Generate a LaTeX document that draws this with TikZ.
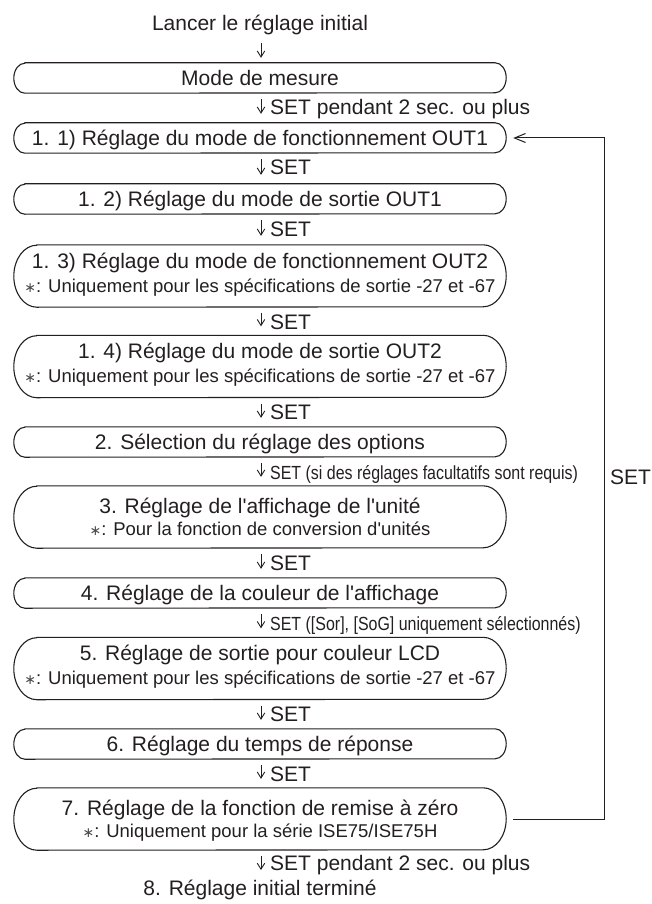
\documentclass[tikz,border=0pt]{standalone}
\usepackage{fontspec}
\setmainfont{Liberation Sans}
\newfontfamily\djv{DejaVu Sans}
\usepackage{graphicx}
\usetikzlibrary{arrows.meta}
\definecolor{ink}{RGB}{35,31,32}
\newcommand\msz{\fontsize{21}{25}\selectfont}
\newcommand\ssz{\fontsize{18.5}{22}\selectfont}
\newcommand\starmark{{\djv\fontsize{14}{14}\selectfont\color{black!70}∗}}
\newcommand\q{\textquotesingle}
\newcommand\cond[1]{\scalebox{0.84}[1]{\fontsize{19}{22}\selectfont #1}}
\begin{document}
\begin{tikzpicture}[x=1pt,y=1pt,
  boxc/.style={draw=none, inner sep=0pt, minimum width=492pt, minimum height=#1},
  txt/.style={inner sep=0pt, anchor=base, font=\msz, text=ink},
  note/.style={inner sep=0pt, anchor=base, font=\ssz, text=ink},
  lab/.style={inner sep=0pt, anchor=base west, font=\msz, text=ink},
  arr/.style={draw=ink, line width=0.9pt, -{Straight Barb[length=6pt,width=7.5pt]}},
  loopline/.style={draw=ink, line width=1pt, -{Straight Barb[length=11pt,width=9pt]}},
  outline/.style={draw=ink, line width=1.1pt}]
\useasboundingbox (0,0) rectangle (652,-904);
% boxes
\node[boxc=30pt] (m)   at (260,-78)    {};
\node[boxc=30pt] (b11) at (260,-138)   {};
\node[boxc=30pt] (b12) at (260,-199)   {};
\node[boxc=62pt] (b13) at (260,-276)   {};
\node[boxc=62pt] (b14) at (260,-366.5) {};
\node[boxc=30pt] (b2)  at (260,-442)   {};
\node[boxc=62pt] (b3)  at (260,-517)   {};
\node[boxc=30pt] (b4)  at (260,-593)   {};
\node[boxc=62pt] (b5)  at (260,-668.5) {};
\node[boxc=30pt] (b6)  at (260,-744)   {};
\node[boxc=62pt] (b7)  at (260,-819)   {};
\foreach \n/\d/\r in {m/11/15,b11/11/15,b12/11/15,b13/23/31,b14/23/31,b2/11/15,b3/23/31,b4/11/15,b5/23/31,b6/11/15,b7/23/31}
  \draw[outline] ([xshift=\d]\n.north west) -- ([xshift=-\d]\n.north east)
    arc[start angle=90,end angle=-90,x radius=\d,y radius=\r]
    -- ([xshift=\d]\n.south west)
    arc[start angle=270,end angle=90,x radius=\d,y radius=\r] -- cycle;
% texts
\node[txt] (l0) at (260,-31) {Lancer le réglage initial};
\node[txt] (tm) at (260,-85.5) {Mode de mesure};
\node[txt] (t11) at (260,-145.5) {1. 1) Réglage du mode de fonctionnement OUT1};
\node[txt] (t12) at (260,-206.5) {1. 2) Réglage du mode de sortie OUT1};
\node[txt] (t13) at (260,-268) {1. 3) Réglage du mode de fonctionnement OUT2};
\node[note] (n13) at (260,-292) {\starmark: Uniquement pour les spécifications de sortie -27 et -67};
\node[txt] (t14) at (260,-358) {1. 4) Réglage du mode de sortie OUT2};
\node[note] (n14) at (260,-382) {\starmark: Uniquement pour les spécifications de sortie -27 et -67};
\node[txt] (t2) at (260,-449.5) {2. Sélection du réglage des options};
\node[txt] (t3) at (260,-513) {3. Réglage de l\q affichage de l\q unité};
\node[note] (n3) at (260,-535) {\starmark: Pour la fonction de conversion d\q unités};
\node[txt] (t4) at (260,-600.5) {4. Réglage de la couleur de l\q affichage};
\node[txt] (t5) at (260,-660) {5. Réglage de sortie pour couleur LCD};
\node[note] (n5) at (260,-684) {\starmark: Uniquement pour les spécifications de sortie -27 et -67};
\node[txt] (t6) at (260,-751.5) {6. Réglage du temps de réponse};
\node[txt] (t7) at (260,-815) {7. Réglage de la fonction de remise à zéro};
\node[note] (n7) at (260,-837) {\starmark: Uniquement pour la série ISE75/ISE75H};
\node[txt] (tend) at (260,-895) {8. Réglage initial terminé};
% arrow labels
\node[lab] (s1) at (270,-115) {SET pendant 2 sec. ou plus};
\node[lab] (s2) at (270,-175) {SET};
\node[lab] (s3) at (270,-236) {SET};
\node[lab] (s4) at (270,-329) {SET};
\node[lab] (s5) at (270,-419) {SET};
\node[lab] (s6) at (270,-479) {\cond{SET (si des réglages facultatifs sont requis)}};
\node[lab] (s7) at (270,-570) {SET};
\node[lab] (s8) at (270,-630) {\cond{SET ([Sor], [SoG] uniquement sélectionnés)}};
\node[lab] (s9) at (270,-721) {SET};
\node[lab] (s10) at (270,-781) {SET};
\node[lab] (s11) at (270,-870) {SET pendant 2 sec. ou plus};
\node[lab] (sr) at (610,-484) {SET};
% arrows
\draw[arr] ([xshift=1pt,yshift=-12pt]l0.base) -- ([xshift=1pt,yshift=5pt]m.north);
\foreach \a/\b in {m/b11,b11/b12,b12/b13,b13/b14,b14/b2,b2/b3,b3/b4,b4/b5,b5/b6,b6/b7}
  \draw[arr] ([xshift=1pt,yshift=-6pt]\a.south) -- ([xshift=1pt,yshift=9pt]\b.north);
\draw[arr] ([xshift=1pt,yshift=-6pt]b7.south) -- ([xshift=1pt,yshift=25pt]tend.base);
% loop
\coordinate (lpb) at (604,-819);
\draw[loopline] ([xshift=7pt]b7.east) -- (lpb) |- ([xshift=7pt]b11.east);
\end{tikzpicture}
\end{document}
